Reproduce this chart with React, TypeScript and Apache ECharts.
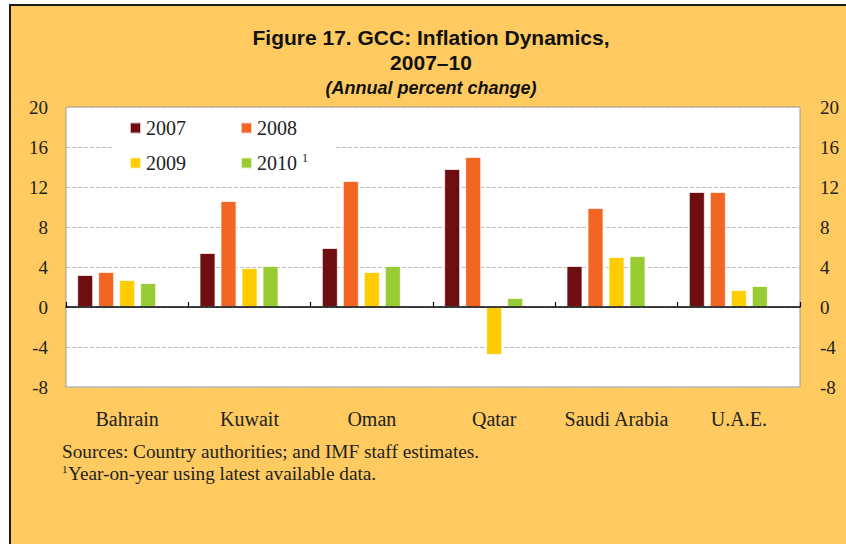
import React, { useEffect, useRef } from "react";
import * as echarts from "echarts";

const categories = ["Bahrain", "Kuwait", "Oman", "Qatar", "Saudi Arabia", "U.A.E."];
const years = ["2007", "2008", "2009", "2010"];
const v2007 = [3.2, 5.4, 5.9, 13.8, 4.1, 11.5];
const v2008 = [3.5, 10.6, 12.6, 15.0, 9.9, 11.5];
const v2009 = [2.7, 3.9, 3.5, -4.8, 5.0, 1.7];
const v2010 = [2.4, 4.1, 4.1, 0.9, 5.1, 2.1];
const spacer = [null, null, null, null, null, null];
const colors = ["#6E0E10", "#F26522", "#FFCC00", "#99CC33"];
const yTicks = { min: -8, max: 20, interval: 4 };

const SERIF = '"Liberation Serif", "DejaVu Serif", serif';
const SANS = '"Liberation Sans", Arial, sans-serif';

export default function App() {
  const ref = useRef<HTMLDivElement>(null);
  useEffect(() => {
    if (!ref.current) return;
    const chart = echarts.init(ref.current, null, { renderer: "svg" });
    const values = [v2007, v2008, v2009, v2010];
    const barSeries: any[] = years.map((y, i) => ({
      name: y,
      type: "bar",
      xAxisIndex: 0,
      yAxisIndex: 0,
      data: values[i],
      barWidth: 16,
      barGap: "31.25%",
      itemStyle: { color: colors[i], borderColor: "rgba(255,255,255,0.7)", borderWidth: 1 },
      z: 3,
    }));
    barSeries.push({
      name: "spacer",
      type: "bar",
      xAxisIndex: 0,
      yAxisIndex: 0,
      data: spacer,
      barWidth: 16,
      barGap: "31.25%",
      itemStyle: { color: "transparent" },
    });
    const legendCommon = {
      orient: "horizontal",
      padding: 0,
      itemWidth: 11,
      itemHeight: 11,
      itemGap: 54,
      icon: "rect",
      textStyle: {
        fontFamily: SERIF,
        fontSize: 20,
        color: "#222",
        rich: { sup: { fontFamily: SERIF, fontSize: 12, color: "#222", padding: [0, 0, 10, 0] } },
      },
      formatter: (n: string) => (n === "2010" ? "2010 {sup|1}" : n),
      z: 10,
    };
    chart.setOption({
      animation: false,
      backgroundColor: "#ffffff",
      graphic: [
        {
          type: "rect",
          z: -10,
          shape: { x: 10, y: 5, width: 850, height: 550 },
          style: { fill: "#FFCA5F", stroke: "#1a1a1a", lineWidth: 2 },
        },
        {
          type: "rect",
          z: 1,
          shape: { x: 113, y: 112, width: 222, height: 66 },
          style: { fill: "#ffffff" },
        },
        {
          type: "text",
          style: {
            text: "Figure 17. GCC: Inflation Dynamics,",
            x: 431,
            y: 37,
            align: "center",
            verticalAlign: "middle",
            font: "bold 21px " + SANS,
            fill: "#111",
          },
        },
        {
          type: "text",
          style: {
            text: "2007–10",
            x: 431,
            y: 62,
            align: "center",
            verticalAlign: "middle",
            font: "bold 21px " + SANS,
            fill: "#111",
          },
        },
        {
          type: "text",
          style: {
            text: "(Annual percent change)",
            x: 431,
            y: 88,
            align: "center",
            verticalAlign: "middle",
            font: "italic bold 18px " + SANS,
            fill: "#111",
          },
        },
        {
          type: "text",
          x: 62,
          y: 452,
          scaleX: 1.07,
          style: {
            text: "Sources: Country authorities; and IMF staff estimates.",
            x: 0,
            y: 0,
            align: "left",
            verticalAlign: "middle",
            font: "18px " + SERIF,
            fill: "#222",
          },
        },
        {
          type: "text",
          style: {
            text: "1",
            x: 62,
            y: 469,
            align: "left",
            verticalAlign: "middle",
            font: "11px " + SERIF,
            fill: "#222",
          },
        },
        {
          type: "text",
          x: 68,
          y: 474,
          scaleX: 1.07,
          style: {
            text: "Year-on-year using latest available data.",
            x: 0,
            y: 0,
            align: "left",
            verticalAlign: "middle",
            font: "18px " + SERIF,
            fill: "#222",
          },
        },
      ],
      legend: [
        { ...legendCommon, data: ["2007", "2008"], left: 129, top: 118 },
        { ...legendCommon, data: ["2009", "2010"], left: 129, top: 152 },
      ],
      grid: {
        left: 66,
        right: 46,
        top: 107,
        bottom: 157,
        show: true,
        backgroundColor: "#ffffff",
        borderColor: "#9a9a9a",
        borderWidth: 1,
      },
      xAxis: [
        {
          type: "category",
          data: categories,
          axisLine: { onZero: true, lineStyle: { color: "#000", width: 1.5 } },
          axisTick: { show: true, inside: true, length: 5, lineStyle: { color: "#000", width: 1.2 } },
          axisLabel: { show: false },
          z: 5,
        },
        {
          type: "category",
          data: categories,
          position: "bottom",
          axisLine: { show: false, onZero: false },
          axisTick: { show: false },
          axisLabel: { show: true, interval: 0, margin: 22, fontFamily: SERIF, fontSize: 20, color: "#222" },
        },
      ],
      yAxis: [
        {
          type: "value",
          position: "left",
          ...yTicks,
          axisLine: { show: false },
          axisTick: { show: false },
          axisLabel: { margin: 18, fontFamily: SERIF, fontSize: 19, color: "#222" },
          splitLine: { show: true, lineStyle: { color: "#bdbdbd", type: [4, 2], width: 1 } },
        },
        {
          type: "value",
          position: "right",
          ...yTicks,
          axisLine: { show: false },
          axisTick: { show: false },
          axisLabel: { margin: 20, fontFamily: SERIF, fontSize: 19, color: "#222" },
          splitLine: { show: false },
        },
      ],
      series: barSeries,
    });
    return () => chart.dispose();
  }, []);
  return (
    <div
      ref={ref}
      style={{ position: "fixed", left: 0, top: 0, width: 846, height: 544 }}
    />
  );
}
